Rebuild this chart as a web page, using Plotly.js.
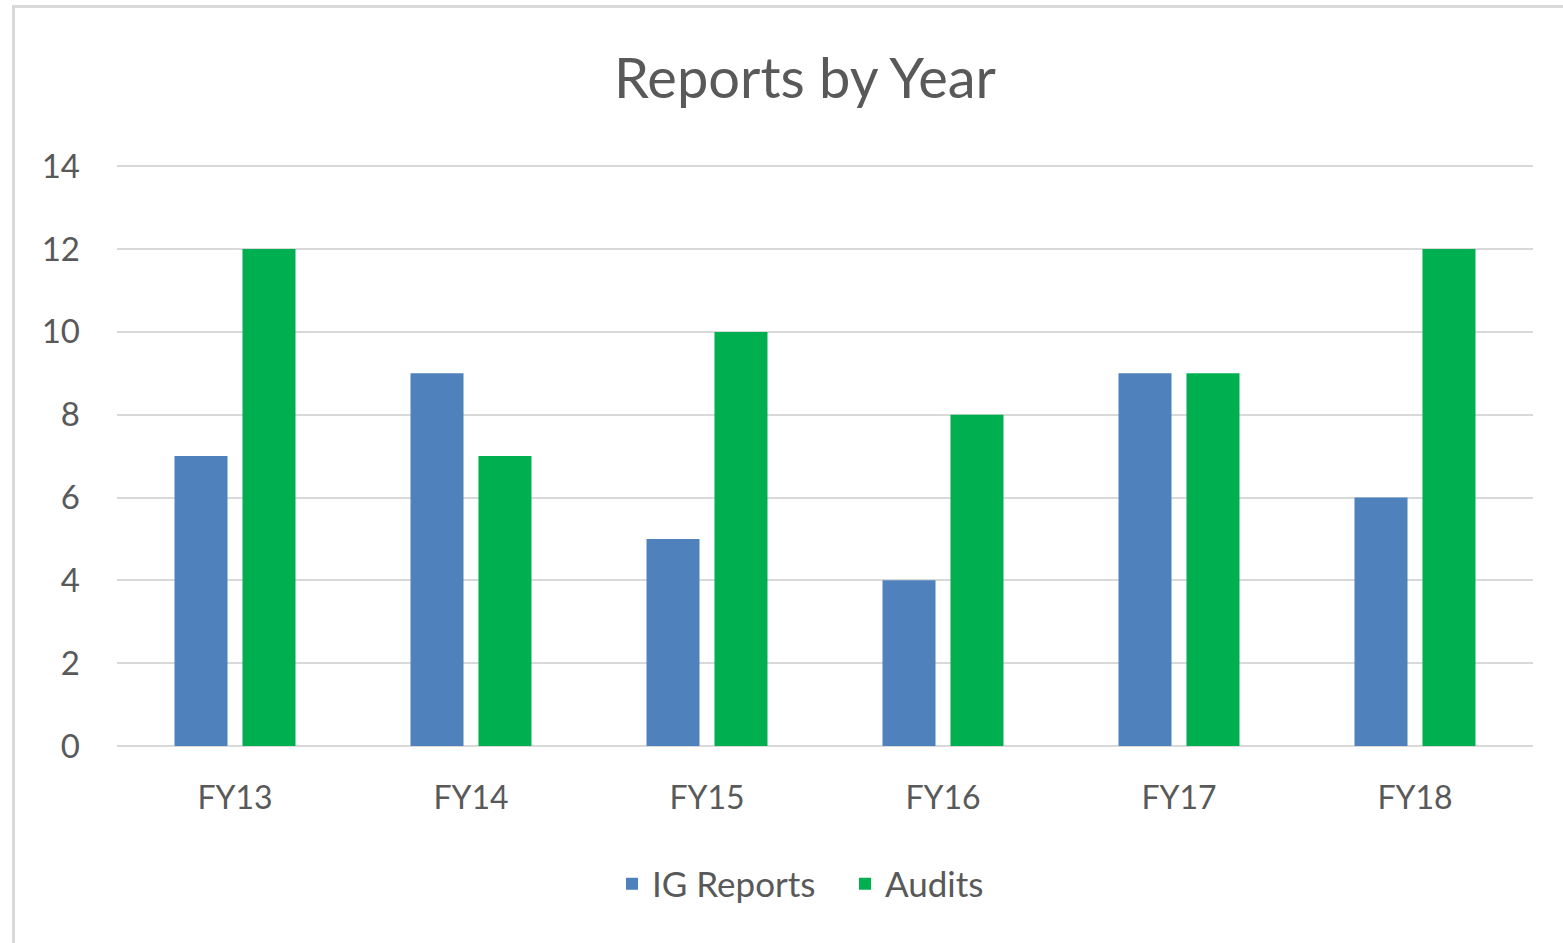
<!DOCTYPE html>
<html>
<head>
<meta charset="utf-8">
<script src="https://cdn.plot.ly/plotly-3.0.1.min.js"></script>
<style>
  html, body { margin: 0; padding: 0; background: #ffffff; overflow: hidden; }
  #chart { position: absolute; left: 0; top: 0; width: 1563px; height: 943px; }
  #frame { position: absolute; left: 12px; top: 5px; width: 1600px; height: 1000px;
           border-left: 3px solid #d9d9d9; border-top: 3px solid #d9d9d9; pointer-events: none; }
</style>
</head>
<body>
<div id="chart"></div>
<div id="frame"></div>
<script>
const categories = ["FY13", "FY14", "FY15", "FY16", "FY17", "FY18"];
const igReports = [7, 9, 5, 4, 9, 6];
const audits = [12, 7, 10, 8, 9, 12];
const seriesNames = ["IG Reports", "Audits"];
const chartTitle = "Reports by Year";

const FONT = "Lato, 'Open Sans', sans-serif";
const TXT = "#595959";

const traces = [
  { type: "bar", name: seriesNames[0], x: categories, y: igReports,
    marker: { color: "#4f81bd" }, hoverinfo: "x+y+name" },
  { type: "bar", name: seriesNames[1], x: categories, y: audits,
    marker: { color: "#00b050" }, hoverinfo: "x+y+name" }
];

const layout = {
  width: 1563, height: 943,
  paper_bgcolor: "#ffffff", plot_bgcolor: "#ffffff",
  margin: { l: 117, r: 30, t: 165, b: 197 },
  barmode: "group", bargap: 0.424, bargroupgap: 0.22,
  font: { family: FONT, color: TXT, size: 32 },
  title: { text: chartTitle, font: { family: FONT, size: 56, color: TXT },
           x: 805 / 1563, xref: "container", xanchor: "center",
           y: 1 - 78 / 943, yref: "container", yanchor: "middle" },
  xaxis: { type: "category", showgrid: false, zeroline: false, showline: false,
           ticks: "", tickfont: { family: FONT, size: 32, color: TXT },
           ticklabelstandoff: 30 },
  yaxis: { range: [0, 14.03], tickvals: [0, 2, 4, 6, 8, 10, 12, 14],
           showgrid: true, gridcolor: "#d9d9d9",
           gridwidth: 2, zeroline: true, zerolinecolor: "#d9d9d9", zerolinewidth: 2,
           showline: false, ticks: "", tickfont: { family: FONT, size: 33, color: TXT },
           ticklabelstandoff: 36 },
  showlegend: true,
  legend: { orientation: "h", xref: "container", yref: "container",
            x: 845 / 1563, xanchor: "center", y: 1 - 884 / 943, yanchor: "middle",
            font: { family: FONT, size: 35, color: TXT }, itemwidth: 30,
            entrywidth: 188, entrywidthmode: "pixels",
            traceorder: "normal" }
};

Plotly.newPlot("chart", traces, layout, { staticPlot: true, displayModeBar: false });
</script>
</body>
</html>
